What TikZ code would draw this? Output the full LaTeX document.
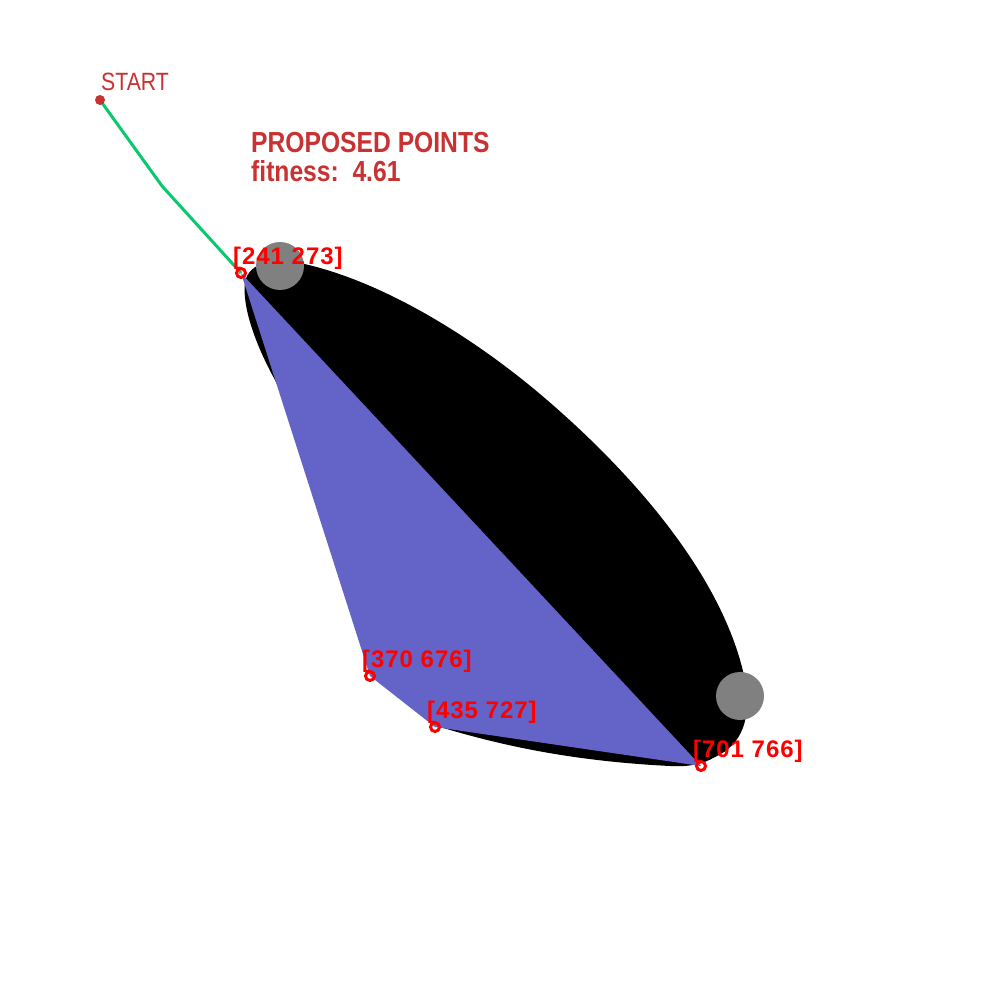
\documentclass[tikz,border=0pt]{standalone}
\usepackage{fontspec}
\newfontfamily\hf[FakeStretch=0.85]{Liberation Sans}
\newfontfamily\lf[LetterSpace=4.0]{Liberation Sans}
\definecolor{titlered}{RGB}{200,50,50}
\definecolor{ptred}{RGB}{255,0,0}
\definecolor{pathgreen}{RGB}{10,200,110}
\definecolor{polyblue}{RGB}{100,100,200}
\definecolor{disc}{RGB}{128,128,128}
\tikzset{
  ptmark/.style={draw=ptred, line width=3pt, circle, inner sep=0pt, minimum size=9pt},
  ptlabel/.style={anchor=base west, inner sep=0pt, text=ptred, font=\lf\bfseries\fontsize{24}{24}\selectfont},
  titletext/.style={anchor=base west, inner sep=0pt, text=titlered, font=\hf\bfseries\fontsize{29}{29}\selectfont},
  discstyle/.style={fill=disc, circle, inner sep=0pt, minimum size=48pt},
}
\begin{document}
\begin{tikzpicture}[x=1pt,y=-1pt]
\useasboundingbox (0,0) rectangle (1000,1000);
\fill[white] (0,0) rectangle (1000,1000);
% black region
\fill[black] (275,380) .. controls (254,342) and (242,305) .. (245,282)
  .. controls (249,262) and (275,257) .. (300,263)
  .. controls (380,280) and (470,335) .. (540,394)
  .. controls (618,460) and (722,568) .. (745,680)
  .. controls (752,718) and (742,745) .. (715,757)
  .. controls (703,764) and (690,767) .. (670,766)
  .. controls (570,761) and (500,745) .. (440,727)
  -- (400,640) -- cycle;
% blue polygon
\coordinate (p1) at (241,273);
\coordinate (p2) at (370,676);
\coordinate (p3) at (435,727);
\coordinate (p4) at (701,766);
\fill[polyblue] (p1) -- (p2) -- (p3) -- (p4) -- cycle;
% grey discs
\node[discstyle] (d1) at (280,266) {};
\node[discstyle] (d2) at (740,696) {};
% start and path
\coordinate (s) at (100,100);
\coordinate (bend) at (162,186);
\draw[pathgreen, line width=3pt, line join=round] (s) -- (bend) -- (p1);
\fill[titlered] (s) circle[radius=5];
\node[anchor=base west, inner sep=0pt, text=titlered, font=\hf\fontsize{25}{25}\selectfont] (startlbl) at (101,91) {START};
\node[titletext] (title) at (251,153) {PROPOSED POINTS};
\node[titletext] (fit) at (251,182) {fitness:\ \ 4.61};
% point markers
\node[ptmark] (m1) at (p1) {};
\node[ptmark] (m2) at (p2) {};
\node[ptmark] (m3) at (p3) {};
\node[ptmark] (m4) at (p4) {};
\node[ptlabel] (l1) at (233,264) {[241 273]};
\node[ptlabel] (l2) at (362,667) {[370 676]};
\node[ptlabel] (l3) at (427,718) {[435 727]};
\node[ptlabel] (l4) at (693,757) {[701 766]};
\end{tikzpicture}
\end{document}
